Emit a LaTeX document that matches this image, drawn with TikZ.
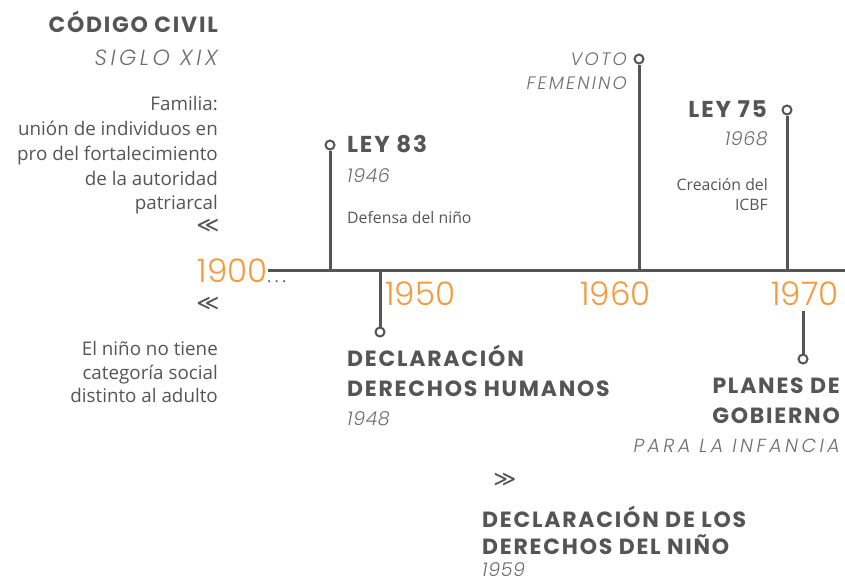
\documentclass[tikz,border=0pt]{standalone}
\usepackage{fontspec}
\setmainfont{Open Sans}
\newfontfamily\headfont[LetterSpace=8]{Poppins}
\newfontfamily\thinfont[UprightFont={* Light}, ItalicFont={* Light Italic}, LetterSpace=12]{Poppins}
\newfontfamily\yearfont[UprightFont={* Light}]{Poppins}
\newfontfamily\symfont{DejaVu Sans}
\definecolor{ink}{HTML}{555555}
\definecolor{soft}{HTML}{6E6E6E}
\definecolor{amber}{HTML}{F59A3B}
\tikzset{
  x=1pt, y=-1pt,
  head/.style={text=ink, inner sep=0pt, font=\headfont\bfseries\fontsize{22}{24}\selectfont},
  sub/.style={text=soft, inner sep=0pt, font=\thinfont\itshape\fontsize{19}{22}\selectfont},
  body/.style={text=ink, inner sep=0pt, font=\fontsize{18.8}{20}\selectfont},
  small/.style={text=ink, inner sep=0pt, font=\fontsize{15.8}{17}\selectfont},
  year/.style={text=amber, inner sep=0pt, font=\yearfont\fontsize{32.5}{34}\selectfont},
  stem/.style={draw=ink, line width=3pt},
  dot/.style={circle, draw=ink, line width=2pt, fill=white, minimum size=9pt, inner sep=0pt},
  guil/.style={text=ink, inner sep=0pt, font=\symfont\fontsize{22}{24}\selectfont}
}
\begin{document}
\begin{tikzpicture}
\useasboundingbox (0,0) rectangle (845,582);
% axis
\coordinate (axL) at (268,270);
\coordinate (axR) at (845,270);
\draw[stem] (axL) -- (axR);
% left column
\node[head, anchor=base east] (cc) at (218,32) {CÓDIGO CIVIL};
\node[sub, anchor=base east, font=\thinfont\itshape\fontsize{22}{24}\selectfont\addfontfeature{LetterSpace=16}] (sx) at (218,65) {SIGLO XIX};
\node[body, anchor=base east] (f1) at (218,110) {Familia:};
\node[body, anchor=base east] (f2) at (218,135) {unión de individuos en};
\node[body, anchor=base east] (f3) at (218,160) {pro del fortalecimiento};
\node[body, anchor=base east] (f4) at (218,185) {de la autoridad};
\node[body, anchor=base east] (f5) at (218,209) {patriarcal};
\node[guil] (g1) at (208,226) {≪};
\node[year, anchor=base east] (y1900) at (268,282) {1900};
\node[text=ink, inner sep=0pt, anchor=base west, font=\fontsize{16}{20}\selectfont] (dots) at (267,282) {.\hspace{3.2pt}.\hspace{3.2pt}.};
\node[guil] (g2) at (208,304) {≪};
\node[body, anchor=base east] (n1) at (218,355) {El niño no tiene};
\node[body, anchor=base east] (n2) at (218,379) {categoría social};
\node[body, anchor=base east] (n3) at (218,402) {distinto al adulto};
% Ley 83
\coordinate (b83) at (330,270);
\node[dot] (d83) at (330,145) {};
\draw[stem] (b83) -- (d83);
\node[head, anchor=base west, font=\headfont\bfseries\fontsize{23}{24}\selectfont] (l83) at (347,152) {LEY 83};
\node[sub, anchor=base west, font=\thinfont\itshape\fontsize{19}{22}\selectfont\addfontfeature{LetterSpace=3}] (y46) at (347,182) {1946};
\node[small, anchor=base west] (t83) at (347,223) {Defensa del niño};
% Declaracion DDHH
\coordinate (b48) at (380,270);
\node[dot] (d48) at (380,332) {};
\draw[stem] (b48) -- (d48);
\node[head, anchor=base west] (h48a) at (347,366) {DECLARACIÓN};
\node[head, anchor=base west] (h48b) at (347,396) {DERECHOS HUMANOS};
\node[sub, anchor=base west, font=\thinfont\itshape\fontsize{19}{22}\selectfont\addfontfeature{LetterSpace=3}] (y48) at (347,425) {1948};
\node[year, anchor=base west] (y1950) at (385,305) {1950};
% Voto femenino
\coordinate (bvf) at (639,270);
\node[dot] (dvf) at (639,59) {};
\draw[stem] (bvf) -- (dvf);
\node[sub, anchor=base east, font=\thinfont\itshape\fontsize{18}{22}\selectfont] (vf1) at (627,65) {VOTO};
\node[sub, anchor=base east, font=\thinfont\itshape\fontsize{18}{22}\selectfont] (vf2) at (627,89) {FEMENINO};
\node[year, anchor=base west] (y1960) at (580,305) {1960};
% Ley 75
\coordinate (b75) at (787,270);
\node[dot] (d75) at (787,110) {};
\draw[stem] (b75) -- (d75);
\node[head, anchor=base east, font=\headfont\bfseries\fontsize{23}{24}\selectfont] (l75) at (767,117) {LEY 75};
\node[sub, anchor=base east, font=\thinfont\itshape\fontsize{19}{22}\selectfont\addfontfeature{LetterSpace=3}] (y68) at (768,145) {1968};
\node[small, anchor=base east] (t75a) at (768,190) {Creación del};
\node[small, anchor=base east] (t75b) at (768,210) {ICBF};
\node[year, anchor=base west] (y1970) at (771,305) {1970};
% Planes de gobierno
\coordinate (tpg) at (803,311);
\node[dot] (dpg) at (803,359) {};
\draw[stem] (tpg) -- (dpg);
\node[head, anchor=base east] (pg1) at (840,393) {PLANES DE};
\node[head, anchor=base east] (pg2) at (840,423) {GOBIERNO};
\node[sub, anchor=base east, font=\thinfont\itshape\fontsize{19}{22}\selectfont\addfontfeature{LetterSpace=18}] (pg3) at (840,452) {PARA LA INFANCIA};
% Declaracion derechos del nino
\node[guil] (g3) at (505,480) {≫};
\node[head, anchor=base west] (dn1) at (482,527) {DECLARACIÓN DE LOS};
\node[head, anchor=base west] (dn2) at (482,554) {DERECHOS DEL NIÑO};
\node[sub, anchor=base west, font=\thinfont\itshape\fontsize{19}{22}\selectfont\addfontfeature{LetterSpace=3}] (y59) at (482,576) {1959};
\end{tikzpicture}
\end{document}
